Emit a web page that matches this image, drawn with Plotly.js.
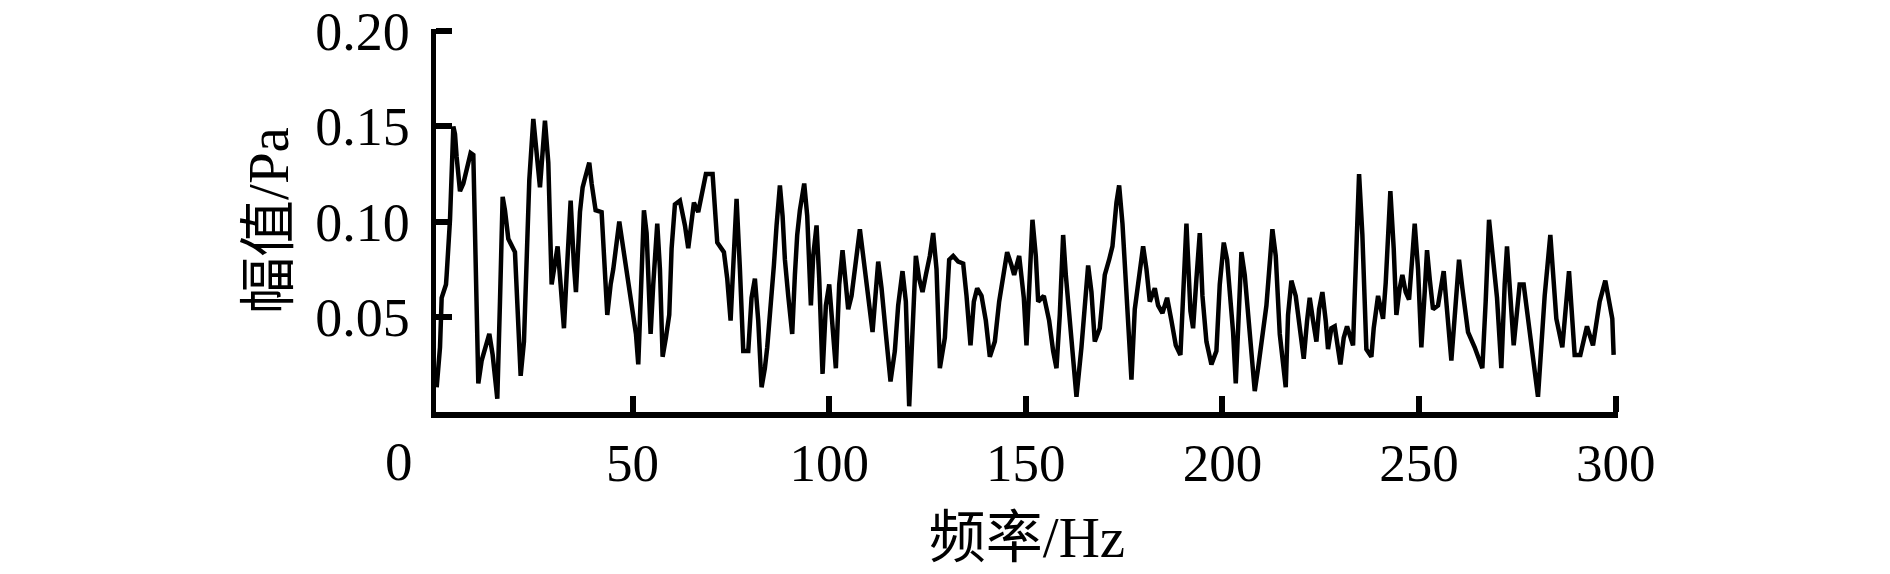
<!DOCTYPE html>
<html>
<head>
<meta charset="utf-8">
<script src="https://cdn.plot.ly/plotly-3.0.1.min.js"></script>
<style>html,body{margin:0;padding:0;background:#fff;}#chart{width:1890px;height:574px;}</style>
</head>
<body>
<div id="chart"></div>
<script>
// Frequency (Hz)
const freq = [
0.17,1.02,1.44,2.54,2.71,3.56,4.41,4.83,5.25,6.10,6.95,7.80,8.81,9.49,10.34,10.76,11.61,12.46,13.56,14.41,
15.59,16.27,16.95,17.54,18.39,20.08,20.68,21.53,22.37,23.05,23.73,24.75,25.59,26.44,27.71,28.56,29.41,30.25,30.93,31.69,
32.54,33.22,34.24,35.08,35.59,36.61,37.29,38.05,38.98,39.58,40.59,42.12,43.56,44.41,45.08,46.61,47.63,48.64,49.75,50.85,
51.44,52.29,52.88,53.56,54.58,55.25,56.27,56.95,57.63,58.47,59.32,59.92,60.76,62.03,63.31,64.15,65.00,65.59,66.69,67.54,
68.64,70.34,71.53,73.22,74.07,74.92,75.59,76.44,77.29,78.14,79.41,80.25,81.10,81.95,82.80,83.64,84.24,85.34,85.93,86.61,
87.46,88.14,88.73,89.58,90.59,91.27,91.86,92.54,93.64,94.41,95.34,95.93,96.78,97.46,98.31,99.15,100.0,101.69,102.54,103.39,
103.98,104.83,105.68,106.53,107.80,108.64,109.66,111.02,112.46,113.31,114.41,115.59,116.69,117.54,118.64,119.49,120.34,121.19,122.03,122.88,
123.73,124.58,125.59,126.44,127.29,128.14,129.41,130.51,131.53,132.80,134.07,134.92,135.93,136.78,137.63,138.73,139.83,140.85,142.12,143.22,
144.07,145.25,146.36,147.03,148.31,149.49,150.17,151.02,151.69,152.54,153.14,154.58,155.93,156.95,157.80,158.64,159.49,160.17,161.61,162.88,
164.15,165.85,166.69,167.54,168.81,170.08,171.19,172.03,173.05,173.73,174.58,175.42,176.27,176.86,177.71,178.56,179.83,180.68,181.53,182.80,
183.64,184.75,185.93,187.03,188.14,189.32,190.00,190.85,191.86,192.54,193.39,194.24,194.92,195.93,197.20,198.47,199.32,200.34,201.19,202.71,
203.39,204.83,205.68,206.95,208.22,209.07,210.34,211.19,212.71,213.56,214.58,216.10,216.69,217.54,218.64,219.66,220.68,221.53,222.20,223.05,
223.90,224.58,225.42,226.27,226.86,227.71,228.56,230.00,230.85,231.69,233.22,233.64,234.75,235.59,236.61,237.88,238.47,239.58,240.85,241.53,
242.12,242.71,243.56,244.24,245.08,245.76,246.61,247.46,248.31,248.90,249.75,250.59,251.44,252.03,252.71,253.56,254.83,256.27,258.22,259.32,
260.17,261.02,262.46,264.15,266.10,266.95,267.80,269.83,270.93,271.78,272.37,274.07,275.59,276.61,278.14,280.25,281.95,283.39,284.92,286.44,
288.14,289.58,291.02,292.71,294.24,295.93,297.37,299.15,299.49
];
// Amplitude (Pa)
const amplitude = [
0.013,0.034,0.060,0.067,0.072,0.101,0.150,0.146,0.134,0.116,0.120,0.127,0.136,0.135,0.063,0.015,0.027,0.034,0.041,0.030,
0.007,0.058,0.113,0.106,0.091,0.084,0.053,0.019,0.037,0.089,0.122,0.154,0.134,0.118,0.153,0.131,0.067,0.079,0.087,0.067,
0.044,0.072,0.111,0.077,0.063,0.105,0.118,0.124,0.131,0.120,0.106,0.105,0.051,0.067,0.075,0.100,0.086,0.072,0.054,0.041,
0.025,0.067,0.106,0.094,0.041,0.067,0.099,0.075,0.029,0.039,0.051,0.086,0.109,0.111,0.098,0.086,0.103,0.110,0.105,0.115,
0.125,0.125,0.089,0.084,0.070,0.048,0.082,0.112,0.075,0.032,0.032,0.060,0.070,0.048,0.013,0.023,0.034,0.058,0.077,0.098,
0.119,0.103,0.080,0.061,0.041,0.072,0.093,0.106,0.120,0.103,0.056,0.082,0.098,0.070,0.020,0.056,0.067,0.023,0.067,0.085,
0.070,0.054,0.061,0.075,0.096,0.082,0.063,0.042,0.079,0.065,0.041,0.016,0.032,0.056,0.074,0.058,0.003,0.039,0.082,0.070,
0.063,0.072,0.082,0.094,0.075,0.023,0.039,0.080,0.082,0.079,0.078,0.061,0.035,0.058,0.065,0.061,0.048,0.029,0.037,0.058,
0.070,0.084,0.077,0.072,0.082,0.060,0.035,0.079,0.101,0.082,0.058,0.061,0.048,0.032,0.023,0.051,0.093,0.072,0.035,0.008,
0.034,0.077,0.063,0.037,0.044,0.072,0.080,0.087,0.110,0.119,0.099,0.072,0.041,0.017,0.054,0.067,0.087,0.075,0.058,0.065,
0.056,0.052,0.060,0.048,0.035,0.030,0.058,0.099,0.053,0.044,0.070,0.094,0.061,0.037,0.025,0.032,0.067,0.089,0.080,0.042,
0.015,0.084,0.072,0.041,0.011,0.023,0.041,0.056,0.096,0.082,0.041,0.013,0.051,0.069,0.061,0.046,0.028,0.048,0.060,0.048,
0.037,0.054,0.063,0.048,0.033,0.044,0.045,0.025,0.039,0.045,0.035,0.061,0.125,0.093,0.033,0.029,0.044,0.061,0.049,0.068,
0.093,0.116,0.086,0.051,0.065,0.072,0.063,0.059,0.082,0.099,0.075,0.034,0.063,0.085,0.070,0.054,0.056,0.074,0.027,0.061,
0.080,0.065,0.042,0.034,0.023,0.058,0.101,0.060,0.023,0.067,0.087,0.035,0.067,0.067,0.042,0.008,0.061,0.093,0.049,0.034,
0.074,0.030,0.030,0.045,0.035,0.058,0.069,0.049,0.030
];
const xTickVals = [50, 100, 150, 200, 250, 300];
const xTickText = ['50', '100', '150', '200', '250', '300'];
const yTickVals = [0.05, 0.10, 0.15, 0.20];
const yTickText = ['0.05', '0.10', '0.15', '0.20'];
const originLabel = '0';
const xTitle = '频率/Hz';
const yTitle = '幅值/Pa';

const FONT = '"Liberation Serif", "Times New Roman", "Noto Sans CJK SC", serif';

const trace = {
  x: freq, y: amplitude, type: 'scatter', mode: 'lines',
  line: {color: '#000', width: 4.5, shape: 'linear'},
  hoverinfo: 'skip', showlegend: false
};

const layout = {
  width: 1890, height: 574,
  margin: {l: 436, r: 272, t: 29, b: 162, pad: 0},
  paper_bgcolor: '#fff', plot_bgcolor: '#fff',
  font: {family: FONT, color: '#000', size: 55},
  xaxis: {
    range: [0, 300.6], autorange: false,
    showgrid: false, zeroline: false,
    showline: true, linecolor: '#000', linewidth: 5.5,
    ticks: 'inside', ticklen: 16, tickwidth: 6, tickcolor: '#000',
    tickvals: xTickVals, ticktext: xTickText,
    tickfont: {family: FONT, size: 53, color: '#000'},
    ticklabelstandoff: 0, ticklabeloverflow: 'allow',
    title: {text: xTitle, font: {family: FONT, size: 57, color: '#000'}, standoff: 28},
    automargin: false
  },
  yaxis: {
    range: [0, 0.2012], autorange: false,
    showgrid: false, zeroline: false,
    showline: true, linecolor: '#000', linewidth: 5.5,
    ticks: 'inside', ticklen: 16, tickwidth: 6, tickcolor: '#000',
    tickvals: yTickVals, ticktext: yTickText,
    tickfont: {family: FONT, size: 54, color: '#000'},
    ticklabelstandoff: 10, ticklabeloverflow: 'allow',
    title: {text: yTitle, font: {family: FONT, size: 57, color: '#000'}, standoff: 10},
    automargin: false
  },
  annotations: [{
    text: originLabel, xref: 'paper', yref: 'paper', x: 0, y: 0,
    xanchor: 'center', yanchor: 'middle', xshift: -37, yshift: -49,
    showarrow: false, font: {family: FONT, size: 55, color: '#000'}
  }]
};

Plotly.newPlot('chart', [trace], layout, {displayModeBar: false, staticPlot: true});
</script>
</body>
</html>
